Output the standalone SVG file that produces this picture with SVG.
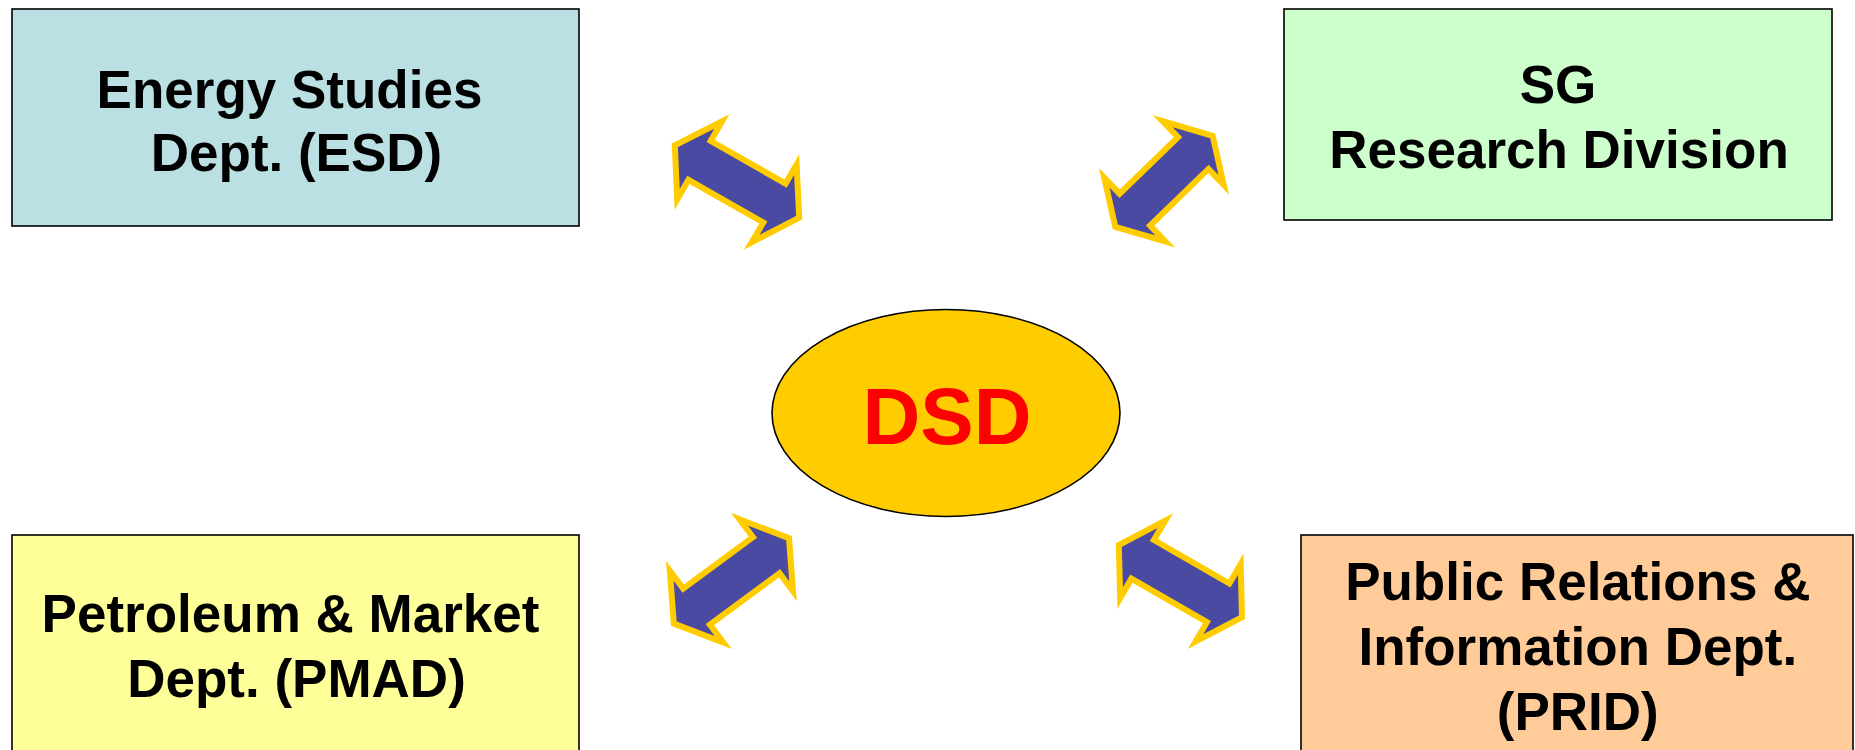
<svg xmlns="http://www.w3.org/2000/svg" width="1855" height="750" viewBox="0 0 1855 750">
<style>
.box{stroke:#000;stroke-width:1.6}
.lbl{font-family:"Liberation Sans",Arial,sans-serif;font-weight:bold;font-size:53px;fill:#000;text-anchor:middle}
.arr{fill:#4a4aa3;stroke:#ffcc00;stroke-width:6;stroke-linejoin:miter;stroke-miterlimit:20}
</style>
<rect width="1855" height="750" fill="#fff"/>
<g id="connectors">
<polygon class="arr" points="721.9,121.5 674.8,145.3 677.2,199.3 688.4,179.9 763.3,222.5 751.7,242.2 799.2,217.7 796.6,164.5 785.6,183.6 710.7,141"/>
<polygon class="arr" points="1162.7,121.2 1212.7,135.8 1223.7,184.8 1208.5,168.9 1150.1,225.5 1165.3,241.4 1115.3,226.8 1104.3,177.8 1119.6,193.7 1178,137.1"/>
<polygon class="arr" points="739.5,519.2 789,538.2 793,591.2 779.6,573.2 709.9,624.6 723.3,642.6 673.8,623.6 669.8,570.7 683.2,588.6 752.9,537.2"/>
<polygon class="arr" points="1165.2,520.7 1118.8,545 1120.2,598 1131.4,578.7 1206.9,622.2 1195.6,641.6 1242,617.2 1240.7,564.2 1229.4,583.5 1153.9,540"/>
</g>
<g id="esd">
<rect class="box" x="12" y="9" width="567" height="217" fill="#bbe0e3"/>
<text class="lbl" x="289.5" y="107.5">Energy Studies</text>
<text class="lbl" x="296.5" y="171">Dept. (ESD)</text>
</g>
<g id="sg">
<rect class="box" x="1284" y="9" width="548" height="211" fill="#ccffcc"/>
<text class="lbl" x="1558" y="103">SG</text>
<text class="lbl" x="1559" y="167.5">Research Division</text>
</g>
<g id="dsd">
<ellipse cx="946" cy="413" rx="174" ry="103.5" fill="#ffcc00" stroke="#000" stroke-width="1.6"/>
<text x="947" y="444" font-family="Liberation Sans,Arial,sans-serif" font-weight="bold" font-size="80" fill="#ff0000" text-anchor="middle">DSD</text>
</g>
<g id="pmad">
<rect class="box" x="12" y="535" width="567" height="240" fill="#ffff99"/>
<text class="lbl" x="290.5" y="631.5">Petroleum &amp; Market</text>
<text class="lbl" x="296.5" y="696.5">Dept. (PMAD)</text>
</g>
<g id="prid">
<rect class="box" x="1301" y="535" width="552" height="240" fill="#ffcc99"/>
<text class="lbl" x="1577.8" y="600">Public Relations &amp;</text>
<text class="lbl" x="1577.8" y="665">Information Dept.</text>
<text class="lbl" x="1577.8" y="729.5">(PRID)</text>
</g>
</svg>
